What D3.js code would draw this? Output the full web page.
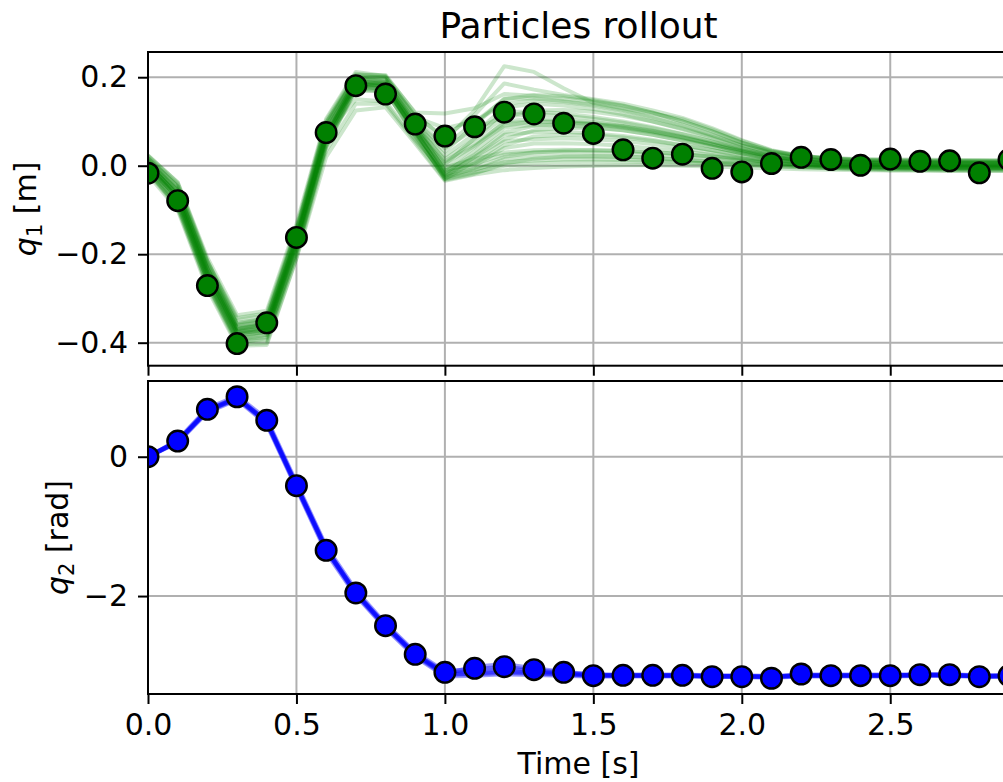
<!DOCTYPE html>
<html>
<head>
<meta charset="utf-8">
<script src="https://cdn.jsdelivr.net/npm/d3@7"></script>
<style>
  body { margin: 0; background: #fff; }
  svg { display: block; font-family: "DejaVu Sans", sans-serif; }
  .tick text { font-size: 30px; fill: #000; font-family: "DejaVu Sans", sans-serif; }
  .tick line { stroke: #000; stroke-width: 2; }
</style>
</head>
<body>
<div id="chart"></div>
<script>
// time stamps of the rollout
var times = [0.0,0.1,0.2,0.3,0.4,0.5,0.6,0.7,0.8,0.9,1.0,1.1,1.2,1.3,1.4,1.5,1.6,1.7,1.8,1.9,
             2.0,2.1,2.2,2.3,2.4,2.5,2.6,2.7,2.8,2.9];

// observed q1 (markers)
var q1Obs = [-0.017,-0.079,-0.271,-0.402,-0.355,-0.162,0.075,0.181,0.162,0.094,
             0.067,0.088,0.121,0.117,0.096,0.073,0.036,0.017,0.026,-0.006,
             -0.014,0.005,0.019,0.014,0.001,0.015,0.010,0.011,-0.016,0.014];

// observed q2 (markers)
var q2Obs = [0.0,0.225,0.68,0.861,0.522,-0.416,-1.344,-1.956,-2.425,-2.837,
             -3.095,-3.037,-3.014,-3.057,-3.095,-3.143,-3.138,-3.138,-3.138,-3.158,
             -3.158,-3.18,-3.119,-3.143,-3.143,-3.143,-3.129,-3.129,-3.158,-3.143];

// particle trajectories of q1
var q1Particles = [
  [0.017,-0.047,-0.218,-0.348,-0.338,-0.145,0.097,0.205,0.205,0.118, 0.058,0.125,0.225,0.212,0.175,0.142,0.13,0.118,0.105,0.082,0.056,0.034,0.022,0.017,0.015,0.014,0.014,0.013,0.013,0.013],
  [0.011,-0.056,-0.231,-0.358,-0.345,-0.15,0.092,0.2,0.2,0.112, 0.065,0.115,0.186,0.172,0.16,0.15,0.14,0.125,0.108,0.085,0.058,0.035,0.022,0.016,0.013,0.012,0.011,0.011,0.01,0.01],
  [0.023,-0.038,-0.208,-0.338,-0.328,-0.132,0.106,0.212,0.203,0.12, 0.118,0.13,0.162,0.158,0.152,0.145,0.135,0.12,0.1,0.078,0.052,0.032,0.02,0.015,0.012,0.01,0.009,0.009,0.009,0.008],
  [-0.001,-0.074,-0.249,-0.38,-0.37,-0.175,0.063,0.19,0.186,0.092, 0.032,0.092,0.152,0.152,0.146,0.138,0.126,0.11,0.092,0.07,0.047,0.028,0.017,0.011,0.008,0.007,0.006,0.005,0.005,0.005],
  [0.006,-0.063,-0.236,-0.369,-0.354,-0.163,0.079,0.195,0.19,0.1, 0.022,0.072,0.132,0.14,0.136,0.128,0.116,0.1,0.082,0.062,0.04,0.022,0.011,0.006,0.004,0.003,0.003,0.003,0.002,0.002],
  [-0.007,-0.083,-0.258,-0.392,-0.382,-0.19,0.052,0.18,0.175,0.08, 0.002,0.062,0.122,0.122,0.118,0.11,0.1,0.087,0.072,0.055,0.036,0.02,0.01,0.004,0.002,0.001,0.001,0.0,0.0,0.0],
  [0.011,-0.056,-0.231,-0.366,-0.359,-0.163,0.081,0.19,0.185,0.085, -0.008,0.042,0.1,0.106,0.104,0.098,0.09,0.078,0.064,0.048,0.031,0.017,0.008,0.003,0.001,0.0,-0.001,-0.001,-0.001,-0.001],
  [-0.001,-0.074,-0.249,-0.376,-0.366,-0.172,0.07,0.185,0.18,0.075, -0.018,0.032,0.086,0.092,0.091,0.087,0.08,0.07,0.057,0.043,0.028,0.015,0.006,0.0,-0.002,-0.003,-0.004,-0.004,-0.004,-0.004],
  [0.005,-0.067,-0.24,-0.378,-0.373,-0.181,0.063,0.182,0.18,0.08, -0.025,0.02,0.07,0.076,0.077,0.073,0.067,0.058,0.047,0.035,0.022,0.01,0.002,-0.003,-0.005,-0.006,-0.007,-0.007,-0.007,-0.007],
  [-0.013,-0.092,-0.267,-0.4,-0.39,-0.2,0.043,0.17,0.168,0.068, -0.03,0.01,0.055,0.06,0.062,0.06,0.056,0.049,0.04,0.029,0.017,0.006,-0.002,-0.006,-0.008,-0.01,-0.01,-0.011,-0.011,-0.011],
  [-0.001,-0.074,-0.251,-0.383,-0.373,-0.182,0.061,0.18,0.175,0.075, -0.014,0.0,0.04,0.05,0.051,0.049,0.045,0.039,0.032,0.024,0.015,0.007,0.001,-0.002,-0.003,-0.004,-0.004,-0.005,-0.005,-0.005],
  [0.017,-0.047,-0.222,-0.361,-0.352,-0.154,0.088,0.196,0.195,0.09, -0.004,0.015,0.03,0.035,0.036,0.035,0.033,0.03,0.026,0.021,0.016,0.012,0.009,0.007,0.006,0.006,0.005,0.005,0.005,0.005],
  [-0.007,-0.085,-0.258,-0.39,-0.382,-0.19,0.052,0.175,0.17,0.065, -0.025,-0.01,0.015,0.02,0.022,0.022,0.02,0.017,0.013,0.008,0.003,-0.001,-0.004,-0.006,-0.007,-0.008,-0.009,-0.009,-0.01,-0.01],
  [0.005,-0.065,-0.24,-0.37,-0.36,-0.165,0.07,0.185,0.18,0.075, -0.03,-0.015,0.0,0.005,0.008,0.009,0.009,0.008,0.007,0.006,0.005,0.004,0.003,0.002,0.001,0.001,0.0,0.0,0.0,0.0],
  [-0.02,-0.1,-0.278,-0.407,-0.405,-0.21,0.02,0.125,0.132,0.05, -0.034,-0.02,-0.01,-0.005,-0.002,0.0,0.001,0.001,0.0,-0.002,-0.004,-0.006,-0.008,-0.009,-0.01,-0.011,-0.011,-0.012,-0.012,-0.012],
  [0.011,-0.056,-0.233,-0.369,-0.359,-0.163,0.07,0.15,0.145,0.06, -0.02,0.005,0.046,0.066,0.07,0.069,0.064,0.056,0.046,0.035,0.024,0.016,0.011,0.009,0.008,0.007,0.007,0.007,0.007,0.006],
  [-0.001,-0.074,-0.258,-0.386,-0.376,-0.172,0.063,0.2,0.195,0.1, 0.04,0.082,0.112,0.116,0.113,0.106,0.097,0.085,0.071,0.055,0.038,0.024,0.016,0.012,0.01,0.009,0.009,0.008,0.008,0.008],
  [0.023,-0.038,-0.215,-0.355,-0.345,-0.145,0.097,0.2,0.19,0.095, 0.01,0.05,0.096,0.1,0.1,0.096,0.088,0.077,0.064,0.049,0.034,0.021,0.013,0.009,0.007,0.006,0.006,0.006,0.006,0.006],
  [-0.013,-0.092,-0.269,-0.394,-0.387,-0.193,0.043,0.176,0.175,0.08, -0.02,0.02,0.06,0.08,0.086,0.085,0.08,0.07,0.057,0.043,0.028,0.015,0.005,0.0,-0.002,-0.003,-0.004,-0.004,-0.004,-0.004],
  [0.005,-0.067,-0.244,-0.376,-0.368,-0.172,0.07,0.19,0.185,0.085, -0.01,0.005,0.025,0.03,0.031,0.03,0.028,0.025,0.021,0.016,0.011,0.006,0.003,0.0,-0.001,-0.002,-0.002,-0.003,-0.003,-0.003],
  [0.013,-0.052,-0.226,-0.358,-0.348,-0.15,0.088,0.202,0.2,0.105, 0.045,0.098,0.15,0.16,0.157,0.148,0.136,0.12,0.1,0.077,0.052,0.033,0.022,0.017,0.014,0.013,0.012,0.012,0.011,0.011],
  [-0.011,-0.088,-0.262,-0.397,-0.394,-0.199,0.048,0.172,0.168,0.07, -0.028,-0.005,0.02,0.03,0.034,0.035,0.034,0.031,0.026,0.02,0.013,0.007,0.002,-0.001,-0.002,-0.003,-0.003,-0.003,-0.003,-0.003],
  [0.003,-0.067,-0.242,-0.374,-0.364,-0.168,0.072,0.186,0.182,0.088, 0.015,0.06,0.11,0.125,0.126,0.122,0.113,0.1,0.084,0.065,0.045,0.027,0.016,0.01,0.006,0.004,0.003,0.002,0.002,0.001],
  [0.009,-0.06,-0.233,-0.366,-0.356,-0.159,0.079,0.19,0.188,0.092, -0.012,0.025,0.075,0.09,0.095,0.094,0.089,0.079,0.066,0.051,0.035,0.021,0.012,0.007,0.005,0.004,0.003,0.003,0.003,0.003],
  [-0.003,-0.078,-0.254,-0.383,-0.376,-0.179,0.059,0.182,0.178,0.078, -0.022,-0.008,0.008,0.012,0.014,0.014,0.013,0.011,0.008,0.005,0.002,-0.001,-0.003,-0.005,-0.006,-0.007,-0.007,-0.008,-0.008,-0.008],
  [0.021,-0.042,-0.215,-0.344,-0.334,-0.139,0.102,0.208,0.202,0.11, 0.085,0.1,0.14,0.148,0.144,0.136,0.124,0.108,0.09,0.068,0.046,0.03,0.021,0.016,0.013,0.012,0.011,0.011,0.011,0.01],
  [-0.015,-0.096,-0.272,-0.404,-0.401,-0.208,0.034,0.14,0.14,0.055, -0.032,-0.018,0.005,0.016,0.02,0.021,0.02,0.018,0.014,0.01,0.006,0.002,-0.001,-0.003,-0.004,-0.005,-0.005,-0.006,-0.006,-0.006],
  [0.002,-0.068,-0.244,-0.376,-0.366,-0.17,0.068,0.186,0.184,0.088, 0.005,0.045,0.09,0.1,0.099,0.094,0.086,0.075,0.062,0.047,0.032,0.019,0.01,0.005,0.002,0.001,0.0,0.0,0.0,0.0]
];

// particle trajectories of q2
var q2Particles = [
  [0.0,0.22,0.66,0.84,0.5,-0.42,-1.33,-1.96,-2.43,-2.84,-3.12,-3.11,-3.08,-3.1,-3.12,-3.14,-3.14,-3.14,-3.14,-3.15,-3.15,-3.16,-3.14,-3.14,-3.14,-3.14,-3.135,-3.135,-3.15,-3.145],
  [0.0,0.235,0.69,0.87,0.54,-0.38,-1.29,-1.92,-2.4,-2.81,-3.08,-3.05,-3.02,-3.06,-3.1,-3.125,-3.13,-3.13,-3.13,-3.14,-3.14,-3.15,-3.13,-3.13,-3.13,-3.13,-3.125,-3.125,-3.14,-3.135],
  [0.0,0.205,0.64,0.82,0.47,-0.45,-1.37,-1.99,-2.46,-2.87,-3.15,-3.14,-3.12,-3.13,-3.14,-3.155,-3.15,-3.15,-3.15,-3.16,-3.16,-3.17,-3.15,-3.15,-3.15,-3.15,-3.145,-3.145,-3.16,-3.155],
  [0.0,0.225,0.67,0.85,0.51,-0.41,-1.32,-1.95,-2.42,-2.83,-3.1,-3.08,-3.05,-3.08,-3.11,-3.135,-3.14,-3.14,-3.14,-3.15,-3.15,-3.16,-3.14,-3.14,-3.14,-3.14,-3.135,-3.135,-3.15,-3.145],
  [0.0,0.215,0.655,0.835,0.49,-0.43,-1.34,-1.97,-2.44,-2.85,-3.13,-3.12,-3.1,-3.11,-3.125,-3.145,-3.14,-3.14,-3.14,-3.15,-3.15,-3.16,-3.14,-3.14,-3.14,-3.14,-3.135,-3.135,-3.15,-3.145],
  [0.0,0.22,0.665,0.845,0.505,-0.415,-1.325,-1.955,-2.425,-2.835,-3.11,-3.02,-2.98,-3.04,-3.09,-3.13,-3.14,-3.14,-3.14,-3.15,-3.15,-3.16,-3.14,-3.14,-3.14,-3.14,-3.135,-3.135,-3.15,-3.145]
];

var xTicks = [0, 0.5, 1.0, 1.5, 2.0, 2.5];
var q1Ticks = [-0.4, -0.2, 0.0, 0.2];
var q2Ticks = [-2, 0];

var width = 1003, height = 782;
var left = 148, right = 1009;

var svg = d3.select("#chart").append("svg")
    .attr("width", width)
    .attr("height", height);

svg.append("rect").attr("width", width).attr("height", height).attr("fill", "#fff");

var x = d3.scaleLinear().domain([0, 2.9]).range([left, right]);

var panels = [
    { id: "p1", top: 52, bottom: 365.7, domain: [-0.452, 0.257], ticks: q1Ticks, fmt: d3.format(".1f"),
      particles: q1Particles, obs: q1Obs, color: "#008000", pOpacity: 0.2, pWidth: 4, xlabels: false },
    { id: "p2", top: 381, bottom: 694, domain: [-3.406, 1.087], ticks: q2Ticks, fmt: d3.format("d"),
      particles: q2Particles, obs: q2Obs, color: "#0000ff", pOpacity: 0.4, pWidth: 4.5, xlabels: true }
];

panels.forEach(function(p) {
    var y = d3.scaleLinear().domain(p.domain).range([p.bottom, p.top]);

    svg.append("clipPath").attr("id", "clip-" + p.id)
        .append("rect")
        .attr("x", left).attr("y", p.top)
        .attr("width", right - left).attr("height", p.bottom - p.top);

    var g = svg.append("g");

    // grid
    g.selectAll(".vgrid").data(xTicks).enter().append("line")
        .attr("x1", function(d) { return x(d); }).attr("x2", function(d) { return x(d); })
        .attr("y1", p.top).attr("y2", p.bottom)
        .attr("stroke", "#b0b0b0").attr("stroke-width", 2);
    g.selectAll(".hgrid").data(p.ticks).enter().append("line")
        .attr("x1", left).attr("x2", right)
        .attr("y1", function(d) { return y(d); }).attr("y2", function(d) { return y(d); })
        .attr("stroke", "#b0b0b0").attr("stroke-width", 2);

    var plot = g.append("g").attr("clip-path", "url(#clip-" + p.id + ")");

    var line = d3.line()
        .x(function(d, i) { return x(times[i]); })
        .y(function(d) { return y(d); });

    plot.selectAll(".particle").data(p.particles).enter().append("path")
        .attr("d", line)
        .attr("fill", "none")
        .attr("stroke", p.color)
        .attr("stroke-opacity", p.pOpacity)
        .attr("stroke-width", p.pWidth)
        .attr("stroke-linejoin", "round");

    plot.selectAll(".obs").data(p.obs).enter().append("circle")
        .attr("cx", function(d, i) { return x(times[i]); })
        .attr("cy", function(d) { return y(d); })
        .attr("r", 10.3)
        .attr("fill", p.color)
        .attr("stroke", "#000")
        .attr("stroke-width", 2.4);

    // spines
    g.append("rect")
        .attr("x", left).attr("y", p.top)
        .attr("width", right - left).attr("height", p.bottom - p.top)
        .attr("fill", "none").attr("stroke", "#000").attr("stroke-width", 2);

    var yAxis = d3.axisLeft(y).tickValues(p.ticks).tickFormat(p.fmt)
        .tickSize(10).tickPadding(10);
    g.append("g").attr("transform", "translate(" + left + ",0)").call(yAxis)
        .call(function(s) { s.select(".domain").remove(); });

    var xAxis = d3.axisBottom(x).tickValues(xTicks)
        .tickFormat(p.xlabels ? d3.format(".1f") : function() { return ""; })
        .tickSize(10).tickPadding(10);
    g.append("g").attr("transform", "translate(0," + p.bottom + ")").call(xAxis)
        .call(function(s) { s.select(".domain").remove(); });
});

// title
svg.append("text")
    .attr("x", (left + right) / 2).attr("y", 38)
    .attr("text-anchor", "middle")
    .style("font-size", "36px")
    .text("Particles rollout");

// x label
svg.append("text")
    .attr("x", (left + right) / 2).attr("y", 774)
    .attr("text-anchor", "middle")
    .style("font-size", "30px")
    .text("Time [s]");

// y labels
function ylabel(xpos, ypos, sub, unit) {
    var t = svg.append("text")
        .attr("transform", "translate(" + xpos + "," + ypos + ") rotate(-90)")
        .attr("text-anchor", "middle")
        .style("font-size", "30px");
    t.append("tspan").style("font-style", "italic").text("q");
    t.append("tspan").attr("dy", 6).style("font-size", "21px").text(sub);
    t.append("tspan").attr("dy", -6).text(" [" + unit + "]");
}
ylabel(36, (52 + 365.7) / 2, "1", "m");
ylabel(68, (381 + 694) / 2, "2", "rad");
</script>
</body>
</html>
